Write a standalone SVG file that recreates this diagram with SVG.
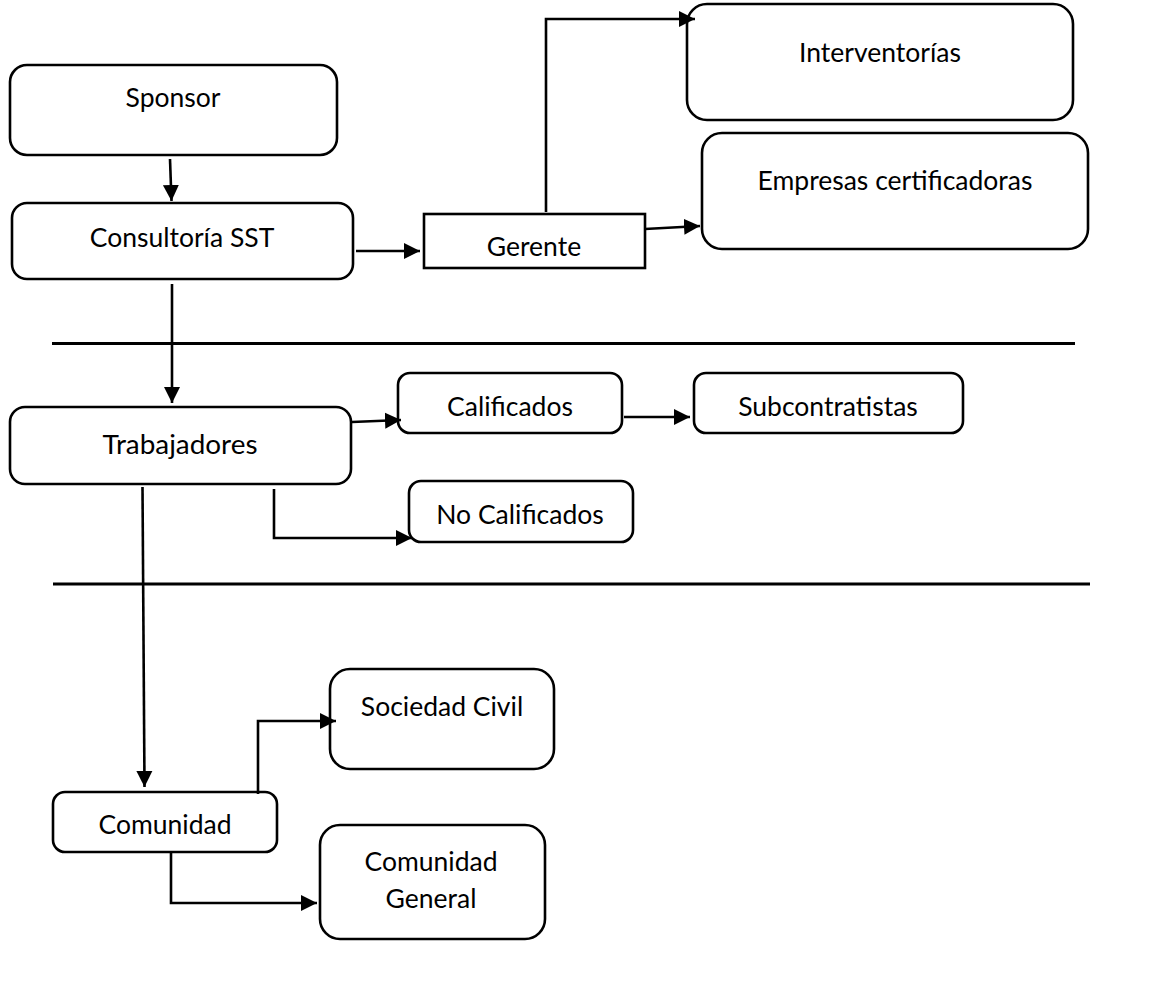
<svg xmlns="http://www.w3.org/2000/svg" width="1176" height="1002" viewBox="0 0 1176 1002">
<style>
.n{fill:#fff;stroke:#000;stroke-width:2.6}
.c{fill:none;stroke:#000;stroke-width:2.6}
.s{fill:none;stroke:#000;stroke-width:3}
text{font-family:"Lato","Liberation Sans",sans-serif;font-size:26.5px;fill:#000;text-anchor:middle}
</style>
<defs>
<marker id="a" markerUnits="userSpaceOnUse" markerWidth="18" markerHeight="18" refX="16" refY="9" orient="auto"><path d="M0 1L16 9L0 17Z" fill="#000"/></marker>
</defs>
<rect width="1176" height="1002" fill="#fff"/>
<g id="node-sponsor"><rect class="n" x="10" y="65" width="327" height="90" rx="17"/><text x="173" y="107">Sponsor</text></g>
<g id="node-consultoria"><rect class="n" x="12" y="203" width="341" height="76" rx="15"/><text x="182" y="247">Consultoría SST</text></g>
<g id="node-gerente"><rect class="n" x="424" y="214" width="221" height="54"/><text x="534" y="256">Gerente</text></g>
<g id="node-interventorias"><rect class="n" x="687" y="4" width="386" height="116" rx="20"/><text x="880" y="62">Interventorías</text></g>
<g id="node-empresas"><rect class="n" x="702" y="133" width="386" height="116" rx="20"/><text x="895" y="190">Empresas certificadoras</text></g>
<g id="node-trabajadores"><rect class="n" x="10" y="407" width="341" height="77" rx="15"/><text x="180" y="454" textLength="155" lengthAdjust="spacingAndGlyphs">Trabajadores</text></g>
<g id="node-calificados"><rect class="n" x="398" y="373" width="224" height="60" rx="12"/><text x="510" y="416">Calificados</text></g>
<g id="node-subcontratistas"><rect class="n" x="694" y="373" width="269" height="60" rx="12"/><text x="828" y="416">Subcontratistas</text></g>
<g id="node-nocalificados"><rect class="n" x="409" y="481" width="224" height="61" rx="12"/><text x="520" y="524">No Calificados</text></g>
<g id="node-comunidad"><rect class="n" x="53" y="792" width="224" height="60" rx="12"/><text x="165" y="834">Comunidad</text></g>
<g id="node-sociedad"><rect class="n" x="330" y="669" width="224" height="100" rx="20"/><text x="442" y="716">Sociedad Civil</text></g>
<g id="node-general"><rect class="n" x="320" y="825" width="225" height="114" rx="20"/><text x="431" y="871">Comunidad</text><text x="431" y="908">General</text></g>
<g id="connectors">
<path class="c" marker-end="url(#a)" d="M170 159L171.500 201"/>
<path class="c" marker-end="url(#a)" d="M356 251H420"/>
<path class="c" marker-end="url(#a)" d="M546 212V19H695"/>
<path class="c" marker-end="url(#a)" d="M645 229L700 226"/>
<path class="c" marker-end="url(#a)" d="M172 284V403"/>
<path class="c" marker-end="url(#a)" d="M352 422L401 420"/>
<path class="c" marker-end="url(#a)" d="M624 417H690"/>
<path class="c" marker-end="url(#a)" d="M274 489V538H412"/>
<path class="c" marker-end="url(#a)" d="M142.500 487L144.500 787"/>
<path class="c" marker-end="url(#a)" d="M258 794V721H336"/>
<path class="c" marker-end="url(#a)" d="M171 853V903H317"/>
<path class="s" d="M52 343.500H1075"/>
<path class="s" d="M53 584H1090"/>
</g>
</svg>
